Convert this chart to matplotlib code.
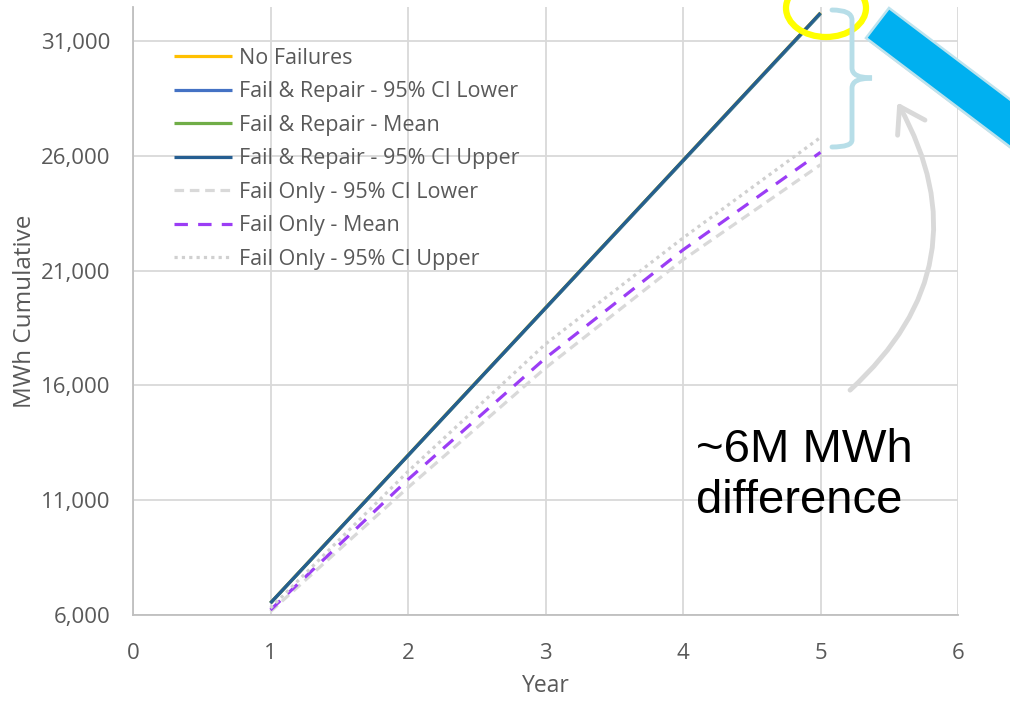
import matplotlib

matplotlib.use("Agg")
import matplotlib.pyplot as plt
from matplotlib.patches import Ellipse, FancyArrowPatch, PathPatch, Polygon
from matplotlib.path import Path
from matplotlib.ticker import FuncFormatter

plt.rcParams["font.family"] = "Open Sans"

years = [1, 2, 3, 4, 5]

# cumulative energy per scenario (MWh)
no_failures = [6530, 12960, 19380, 25800, 32230]
fr_lower = [6515, 12935, 19350, 25765, 32185]
fr_mean = [6520, 12945, 19365, 25785, 32205]
fr_upper = [6525, 12950, 19370, 25795, 32220]
fo_lower = [6150, 11550, 16760, 21470, 25610]
fo_mean = [6220, 11900, 17190, 21900, 26150]
fo_upper = [6300, 12250, 17800, 22420, 26800]

series = [
    ("No Failures", no_failures, "#FFC000", "-"),
    ("Fail & Repair - 95% CI Lower", fr_lower, "#4472C4", "-"),
    ("Fail & Repair - Mean", fr_mean, "#70AD47", "-"),
    ("Fail & Repair - 95% CI Upper", fr_upper, "#255E91", "-"),
    ("Fail Only - 95% CI Lower", fo_lower, "#D9D9D9", (0, (3, 1.8))),
    ("Fail Only - Mean", fo_mean, "#9B3DF5", (0, (4.2, 3.2))),
    ("Fail Only - 95% CI Upper", fo_upper, "#D0D0D0", (0, (1, 1.3))),
]

TEXT = "#595959"
GRID = "#D9D9D9"

fig = plt.figure(figsize=(10.10, 7.14), dpi=100)
ax = fig.add_axes([133 / 1010, 1 - 615 / 714, 825 / 1010, 608 / 714])

for label, values, color, style in series:
    ax.plot(years, values, color=color, linestyle=style, linewidth=2.3,
            label=label, solid_capstyle="butt")

ax.set_xlim(0, 6)
ax.set_ylim(6000, 32480)
ax.set_xticks(range(0, 7))
ax.set_yticks(range(6000, 31001, 5000))
ax.yaxis.set_major_formatter(FuncFormatter(lambda v, _: f"{v:,.0f}"))
ax.grid(True, color=GRID, linewidth=1.3)
ax.set_axisbelow(True)
for side in ("top", "right"):
    ax.spines[side].set_visible(False)
for side in ("left", "bottom"):
    ax.spines[side].set_color("#BFBFBF")
    ax.spines[side].set_linewidth(1.3)
ax.tick_params(length=0, labelsize=16, labelcolor=TEXT)
ax.tick_params(axis="y", pad=16)
ax.tick_params(axis="x", pad=20)
ax.set_xlabel("Year", fontsize=16.5, color=TEXT, labelpad=7)
ax.set_ylabel("MWh Cumulative", fontsize=17.5, color=TEXT, labelpad=3)

ax.legend(loc="upper left", bbox_to_anchor=(0.039, 0.947), frameon=False,
          fontsize=15.5, labelcolor=TEXT, handlelength=2.7, handletextpad=0.35,
          labelspacing=0.58, borderaxespad=0)

# overlay in pixel coordinates for the callout shapes
ov = fig.add_axes([0, 0, 1, 1], zorder=5)
ov.set_xlim(0, 1010)
ov.set_ylim(714, 0)
ov.axis("off")
ov.patch.set_alpha(0)

# highlight ring at the top of the curves
ov.add_patch(Ellipse((826, 8), 80, 58, fill=False, edgecolor="#FFFF00",
                     linewidth=4.5))

# right brace spanning the gap between scenarios
brace = Path(
    [(832, 10), (852, 10), (852, 20), (852, 68), (852, 78), (872, 78),
     (852, 78), (852, 88), (852, 140), (852, 147), (832, 147)],
    [Path.MOVETO, Path.CURVE3, Path.CURVE3, Path.LINETO, Path.CURVE3,
     Path.CURVE3, Path.CURVE3, Path.CURVE3, Path.LINETO, Path.CURVE3,
     Path.CURVE3],
)
ov.add_patch(PathPatch(brace, fill=False, edgecolor="#B7DEE8", linewidth=3.5,
                       capstyle="round"))

# pointer bar running off the right edge
dx, dy = 123, 93
bar = [(889, 8), (866, 38), (866 + 2 * dx, 38 + 2 * dy), (889 + 2 * dx, 8 + 2 * dy)]
shadow = [(x + 3, y + 4) for x, y in bar]
ov.add_patch(Polygon(shadow, closed=True, facecolor="#000000", alpha=0.15,
                     edgecolor="none"))
ov.add_patch(Polygon(bar, closed=True, facecolor="#00B0F0", edgecolor="#BDE3EE",
                     linewidth=1.8))

# curved arrow up to the brace
ov.add_patch(FancyArrowPatch((848, 392), (896, 100),
                             connectionstyle="arc3,rad=0.4",
                             arrowstyle="->,head_length=0.7,head_width=0.45",
                             mutation_scale=25, color="#D9D9D9", linewidth=3.5))

ov.text(696, 513, "~6M MWh\ndifference", fontsize=34, family="Liberation Sans",
        color="black", ha="left", va="baseline", linespacing=1.2)

fig.savefig("out.png", dpi=100)
